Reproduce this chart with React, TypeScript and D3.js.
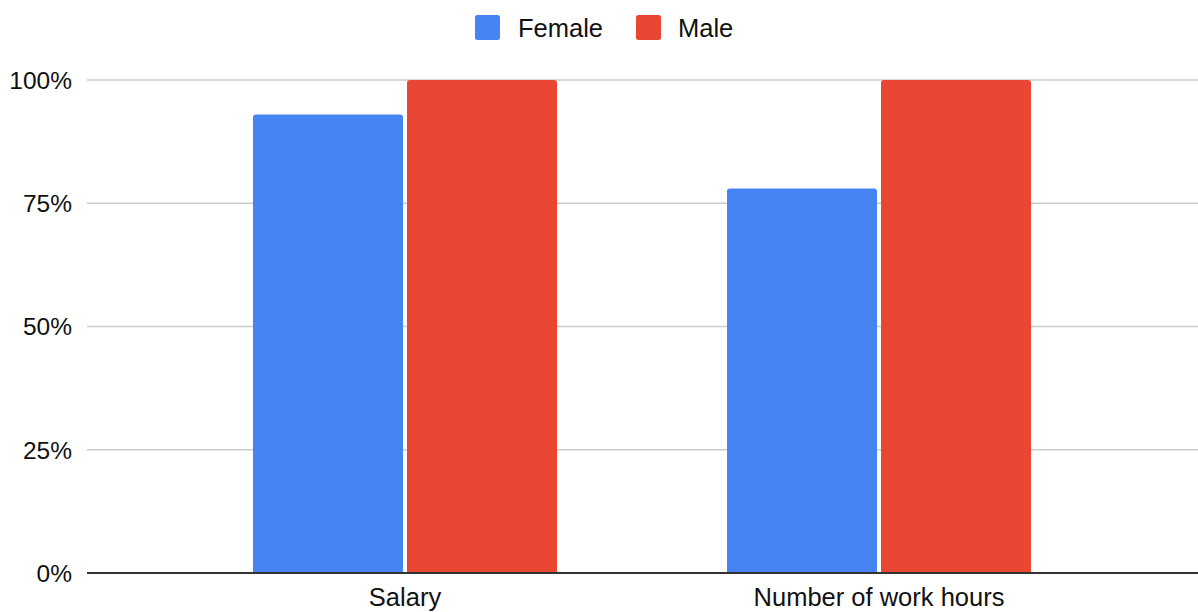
import React from "react";
import * as d3 from "d3";

const categories = ["Salary", "Number of work hours"];
const seriesNames = ["Female", "Male"];
const femaleValues = [0.93, 0.78];
const maleValues = [1.0, 1.0];
const yTicks = [0, 0.25, 0.5, 0.75, 1.0];
const seriesColors = ["#4684f3", "#e94633"];

const W = 1198;
const H = 612;
const FONT = "'Liberation Sans', Arial, Helvetica, sans-serif";

export default function App() {
  const plotLeft = 87;
  const plotRight = 1198;
  const yTop = 80;
  const yBottom = 573;

  const y = d3.scaleLinear().domain([0, 1]).range([yBottom, yTop]);

  const pad = 170 / 474;
  const x0 = d3
    .scaleBand<string>()
    .domain(categories)
    .range([168, 1116])
    .paddingInner(pad)
    .paddingOuter(pad / 2);

  const x1 = d3
    .scaleBand<string>()
    .domain(seriesNames)
    .range([0, x0.bandwidth()])
    .paddingInner(4 / 154);

  const values = [femaleValues, maleValues];
  const fmt = d3.format(".0%");

  // bar path with slightly rounded top corners
  const barPath = (x: number, yTopBar: number, w: number, h: number, r: number) => {
    const p = d3.path();
    p.moveTo(x, yTopBar + h);
    p.lineTo(x, yTopBar + r);
    p.quadraticCurveTo(x, yTopBar, x + r, yTopBar);
    p.lineTo(x + w - r, yTopBar);
    p.quadraticCurveTo(x + w, yTopBar, x + w, yTopBar + r);
    p.lineTo(x + w, yTopBar + h);
    p.closePath();
    return p.toString();
  };

  return (
    <svg
      width={W}
      height={H}
      style={{ position: "absolute", left: 0, top: 0, background: "#fff" }}
      fontFamily={FONT}
    >
      {/* legend */}
      <g>
        <rect x={475} y={15} width={25} height={25} rx={2.5} fill={seriesColors[0]} />
        <text x={518} y={36.5} fontSize={25.5} fill="#111">
          {seriesNames[0]}
        </text>
        <rect x={636} y={15} width={25} height={25} rx={2.5} fill={seriesColors[1]} />
        <text x={678} y={36.5} fontSize={25.5} fill="#111">
          {seriesNames[1]}
        </text>
      </g>

      {/* gridlines and y labels */}
      {yTicks.map((t) => (
        <g key={t}>
          {t !== 0 && (
            <line
              x1={plotLeft}
              x2={plotRight}
              y1={y(t)}
              y2={y(t)}
              stroke="#cccccc"
              strokeWidth={1.5}
            />
          )}
          <text
            x={72}
            y={y(t)}
            dy="0.36em"
            textAnchor="end"
            fontSize={24.5}
            fill="#111"
          >
            {fmt(t)}
          </text>
        </g>
      ))}

      {/* bars */}
      {categories.map((c, ci) => (
        <g key={c} transform={`translate(${x0(c)},0)`}>
          {seriesNames.map((s, si) => {
            const v = values[si][ci];
            const bx = x1(s) as number;
            const by = y(v);
            return (
              <path
                key={s}
                d={barPath(bx, by, x1.bandwidth(), yBottom - by, 3)}
                fill={seriesColors[si]}
              />
            );
          })}
        </g>
      ))}

      {/* baseline */}
      <line
        x1={plotLeft}
        x2={plotRight}
        y1={yBottom}
        y2={yBottom}
        stroke="#333333"
        strokeWidth={2}
      />

      {/* category labels */}
      {categories.map((c) => (
        <text
          key={c}
          x={(x0(c) as number) + x0.bandwidth() / 2}
          y={606}
          textAnchor="middle"
          fontSize={25.5}
          fill="#111"
        >
          {c}
        </text>
      ))}
    </svg>
  );
}
